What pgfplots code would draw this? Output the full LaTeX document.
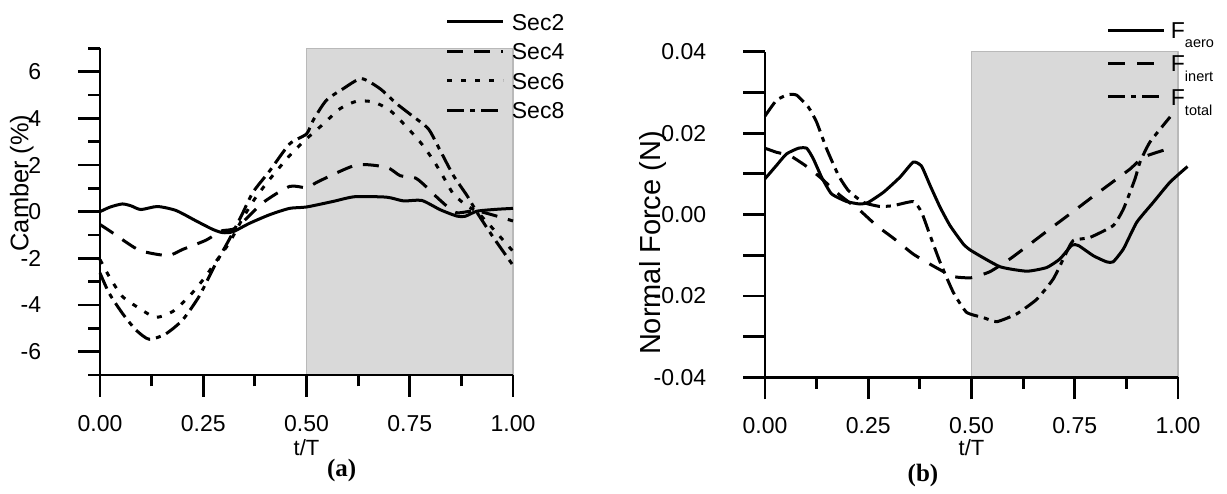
\documentclass[border=0pt]{standalone}
\usepackage{pgfplots}
\pgfplotsset{compat=1.18}
\usepackage{fontspec}
\setmainfont{Liberation Sans}
\newfontfamily\capserif{Liberation Serif}

\pgfplotsset{
  myaxis/.style={
    scale only axis, width=413pt,
    axis x line*=bottom, axis y line*=left,
    axis line style={line width=2.8pt, black},
    tick style={line width=2.8pt, black},
    tick align=outside,
    major tick length=22pt, minor tick length=11.5pt,
    xmin=0, xmax=1,
    xtick={0,0.25,0.5,0.75,1},
    xticklabels={0.00,0.25,0.50,0.75,1.00},
    minor xtick={0.125,0.375,0.625,0.875},
    scaled x ticks=false, scaled y ticks=false,
    xticklabel style={anchor=base, inner sep=0pt, yshift=-34.3pt,
      font=\fontsize{23}{27}\selectfont},
    yticklabel style={anchor=east, inner sep=0pt, xshift=-36.7pt,
      font=\fontsize{23}{27}\selectfont},
    clip=false,
    axis on top,
    every axis plot/.append style={line width=3pt, black, line join=round},
    legend cell align=left,
    legend style={draw=none, fill=none, inner sep=0pt, font=\fontsize{23}{27}\selectfont,
      nodes={inner sep=0pt, text height=16.7pt, text depth=0pt}},
    legend image code/.code={\draw[##1] (0pt,0pt) -- (56pt,0pt);},
  }
}

\begin{document}
\begin{tikzpicture}[font=\fontsize{23}{27}\selectfont]
\useasboundingbox (0,0) rectangle (1227pt,494pt);

% ---------------- (a) ----------------
\begin{axis}[myaxis,
  at={(100pt,119pt)}, anchor=south west, height=326.7pt,
  ymin=-7, ymax=7,
  ytick={-6,-4,-2,0,2,4,6},
  yticklabels={-6,-4,-2,0,2,4,6},
  minor ytick={-7,-5,-3,-1,1,3,5,7},
  legend style={at={(axis description cs:0.837,1.107)}, anchor=north west,
    row sep=12.7pt, column sep=7pt},
]
\addplot[fill=gray!30, draw=gray!55, line width=1.2pt, forget plot]
  coordinates {(0.5,-7) (1,-7) (1,7) (0.5,7) (0.5,-7)};

\addplot[solid, smooth, tension=0.4] coordinates {
(0,0.0) (0.025,0.2) (0.054,0.33) (0.075,0.25) (0.099,0.09) (0.139,0.22)
(0.184,0.05) (0.233,-0.40) (0.273,-0.76) (0.297,-0.90) (0.322,-0.86)
(0.362,-0.50) (0.411,-0.13) (0.459,0.14) (0.50,0.20) (0.565,0.44)
(0.617,0.64) (0.694,0.62) (0.735,0.46) (0.779,0.48) (0.824,0.08)
(0.864,-0.19) (0.884,-0.20) (0.913,0.02) (0.96,0.10) (1.0,0.14)};
\addlegendentry{Sec2}

\addplot[dash pattern=on 16pt off 11pt, smooth, tension=0.4] coordinates {
(0,-0.55) (0.03,-0.9) (0.095,-1.65) (0.164,-1.88) (0.20,-1.62)
(0.257,-1.22) (0.293,-0.83) (0.33,-0.69) (0.395,0.39) (0.459,1.08)
(0.50,1.03) (0.532,1.32) (0.621,2.0) (0.694,1.9) (0.727,1.54)
(0.764,1.44) (0.792,1.03) (0.821,0.53) (0.862,-0.04) (0.913,0.03)
(1.0,-0.40)};
\addlegendentry{Sec4}

\addplot[dash pattern=on 5pt off 9pt, smooth, tension=0.4] coordinates {
(0,-2.05) (0.022,-2.77) (0.054,-3.63) (0.095,-4.14) (0.135,-4.53)
(0.176,-4.28) (0.216,-3.63) (0.253,-2.84) (0.281,-2.13) (0.313,-1.34)
(0.342,-0.40) (0.374,0.53) (0.411,1.39) (0.459,2.40) (0.50,3.12)
(0.541,3.76) (0.581,4.41) (0.621,4.73) (0.662,4.70) (0.702,4.34)
(0.743,3.62) (0.779,2.90) (0.808,2.18) (0.832,1.47) (0.856,0.75)
(0.889,0.24) (0.913,-0.01) (0.953,-0.76) (1.0,-1.70)};
\addlegendentry{Sec6}

\addplot[dash pattern=on 17pt off 6pt on 5pt off 6pt, smooth, tension=0.4] coordinates {
(0,-2.63) (0.022,-3.49) (0.054,-4.35) (0.087,-5.07) (0.119,-5.47)
(0.159,-5.24) (0.20,-4.64) (0.24,-3.63) (0.277,-2.34) (0.313,-1.19)
(0.342,-0.19) (0.37,0.82) (0.411,1.75) (0.459,2.90) (0.50,3.33)
(0.516,3.91) (0.548,4.77) (0.589,5.27) (0.633,5.70) (0.678,5.27)
(0.718,4.63) (0.755,4.12) (0.795,3.55) (0.824,2.61) (0.856,1.54)
(0.889,0.68) (0.913,-0.04) (0.953,-1.12) (1.0,-2.30)};
\addlegendentry{Sec8}

\node[font=\fontsize{22}{26}\selectfont] at (axis description cs:0.5,-0.2234) {t/T};
\node[rotate=90, font=\fontsize{25.4}{30}\selectfont] at (axis description cs:-0.1896,0.5877) {Camber (\%)};
\node[font=\capserif\bfseries\fontsize{25}{30}\selectfont] at (axis description cs:0.5852,-0.2938) {(a)};
\end{axis}

% ---------------- (b) ----------------
\begin{axis}[myaxis,
  at={(765pt,116.5pt)}, anchor=south west, height=325.8pt,
  ymin=-0.04, ymax=0.04,
  ytick={-0.04,-0.03,-0.02,-0.01,0,0.01,0.02,0.03,0.04},
  yticklabels={-0.04,,-0.02,,0.00,,0.02,,0.04},
  legend style={at={(axis description cs:0.8274,1.0922)}, anchor=north west,
    row sep=16.6pt, column sep=5pt},
]
\addplot[fill=gray!30, draw=gray!55, line width=1.2pt, forget plot]
  coordinates {(0.5,-0.04) (1,-0.04) (1,0.04) (0.5,0.04) (0.5,-0.04)};

\addplot[solid, smooth, tension=0.3] coordinates {
(0,0.0088) (0.028,0.0121) (0.052,0.0149) (0.081,0.0163) (0.101,0.0163)
(0.117,0.0137) (0.137,0.0092) (0.161,0.0051) (0.198,0.0032) (0.230,0.0026)
(0.250,0.0030) (0.287,0.0055) (0.327,0.0092) (0.359,0.0129) (0.379,0.0119)
(0.400,0.0071) (0.424,0.0018) (0.448,-0.0027) (0.480,-0.0072) (0.50,-0.0089)
(0.569,-0.0128) (0.634,-0.0139) (0.682,-0.0130) (0.714,-0.0109) (0.743,-0.0075)
(0.759,-0.0076) (0.795,-0.0101) (0.827,-0.0116) (0.843,-0.0116) (0.868,-0.0084)
(0.900,-0.0019) (0.940,0.0030) (0.981,0.0080) (1.023,0.0118)};
\addlegendentry{F\raisebox{-8.7pt}{\fontsize{14.5}{15}\selectfont aero}}

\addplot[dash pattern=on 17pt off 12pt, smooth, tension=0.3] coordinates {
(0,0.0163) (0.028,0.0153) (0.060,0.0145) (0.097,0.0121) (0.133,0.0092)
(0.182,0.0047) (0.230,0.0010) (0.270,-0.0027) (0.311,-0.0058) (0.359,-0.0097)
(0.407,-0.0126) (0.456,-0.0152) (0.50,-0.0155) (0.545,-0.0140) (0.593,-0.0109)
(0.642,-0.0072) (0.690,-0.0035) (0.739,0.0002) (0.787,0.0039) (0.835,0.0075)
(0.884,0.0112) (0.916,0.0141) (0.965,0.0158)};
\addlegendentry{F\raisebox{-9.3pt}{\fontsize{14.5}{15}\selectfont inert}}

\addplot[dash pattern=on 17pt off 6pt on 5pt off 6pt, smooth, tension=0.3] coordinates {
(0,0.0242) (0.028,0.0281) (0.057,0.0295) (0.077,0.0293) (0.105,0.0264)
(0.125,0.0227) (0.149,0.0162) (0.178,0.0096) (0.202,0.0059) (0.238,0.0030)
(0.278,0.0020) (0.311,0.0022) (0.359,0.0032) (0.379,0.0006) (0.400,-0.0052)
(0.424,-0.0117) (0.456,-0.0191) (0.488,-0.0240) (0.529,-0.0253) (0.561,-0.0263)
(0.609,-0.0244) (0.658,-0.0208) (0.698,-0.0158) (0.726,-0.0101) (0.746,-0.0064)
(0.787,-0.0056) (0.843,-0.0027) (0.868,0.0014) (0.896,0.0088) (0.908,0.0129)
(0.932,0.0178) (0.981,0.0240)};
\addlegendentry{F\raisebox{-10pt}{\fontsize{14.5}{15}\selectfont total}}

\node[font=\fontsize{22}{26}\selectfont] at (axis description cs:0.5,-0.2164) {t/T};
\node[rotate=90, font=\fontsize{29}{34}\selectfont] at (axis description cs:-0.2712,0.4128) {Normal Force (N)};
\node[font=\capserif\bfseries\fontsize{25}{30}\selectfont] at (axis description cs:0.3826,-0.2993) {(b)};
\end{axis}
\end{tikzpicture}
\end{document}
